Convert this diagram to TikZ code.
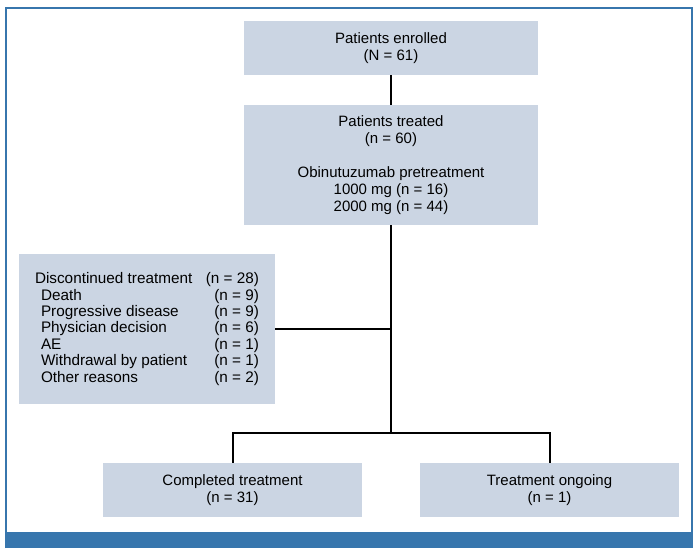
\documentclass[tikz,border=0pt]{standalone}
\usepackage{fontspec}
\setmainfont{Liberation Sans}
\definecolor{boxfill}{HTML}{CBD5E3}
\definecolor{frameblue}{HTML}{3776AD}
\newcommand{\drow}[3][0pt]{\makebox[224pt][l]{\hspace{#1}#2\hfill#3}}
\begin{document}
\begin{tikzpicture}[x=1pt,y=-1pt,
  flowbox/.style={fill=boxfill, draw=none, inner sep=0pt, align=center,
    font=\fontsize{15}{17}\selectfont},
  link/.style={draw=black, line width=2pt}]
\useasboundingbox (0,0) rectangle (700,553);
% frame
\draw[frameblue, line width=1.5pt] (6,548) -- (6,8) -- (692,8) -- (692,548);
\fill[frameblue] (5.25,532) rectangle (692.75,548);
% boxes
\node[flowbox, minimum width=294pt, minimum height=54pt] (enrolled) at (391,48)
  {Patients enrolled\\(N = 61)};
\node[flowbox, minimum width=294pt, minimum height=120pt] (treated) at (391,165)
  {Patients treated\\(n = 60)\\[17pt]Obinutuzumab pretreatment\\1000 mg (n = 16)\\2000 mg (n = 44)};
\node[flowbox, minimum width=256pt, minimum height=150pt, align=left,
  font=\fontsize{15.3}{16.4}\selectfont] (disc) at (147,329)
  {\drow{Discontinued treatment}{(n = 28)}\\
   \drow[6pt]{Death}{(n = 9)}\\
   \drow[6pt]{Progressive disease}{(n = 9)}\\
   \drow[6pt]{Physician decision}{(n = 6)}\\
   \drow[6pt]{AE}{(n = 1)}\\
   \drow[6pt]{Withdrawal by patient}{(n = 1)}\\
   \drow[6pt]{Other reasons}{(n = 2)}};
\node[flowbox, minimum width=259pt, minimum height=54pt] (completed) at (232.5,490)
  {Completed treatment\\(n = 31)};
\node[flowbox, minimum width=259pt, minimum height=54pt] (ongoing) at (549.5,490)
  {Treatment ongoing\\(n = 1)};
% connectors
\coordinate (junction) at (391,433);
\draw[link] (enrolled.south) -- (treated.north);
\draw[link] (treated.south) -- (junction);
\draw[link] (completed.north) |- (junction) -| (ongoing.north);
\draw[link] (disc.east) -- (disc.east -| treated.south);
\end{tikzpicture}
\end{document}
